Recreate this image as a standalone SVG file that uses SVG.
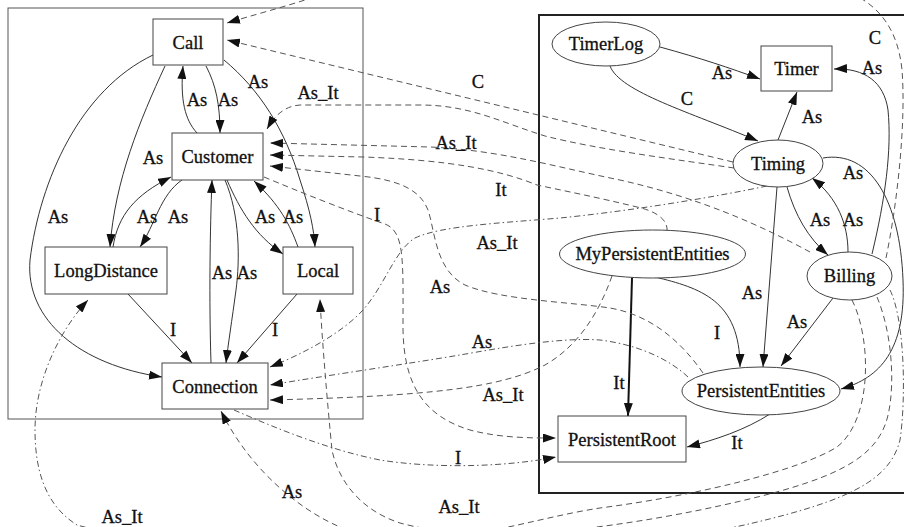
<svg xmlns="http://www.w3.org/2000/svg" width="904" height="527" viewBox="0 0 904 527">
<defs>
<style>
text{font-family:"Liberation Serif",serif;font-size:18.5px;fill:#111;text-anchor:middle;stroke:#111;stroke-width:0.3}
.n rect,.n ellipse{fill:#fff;stroke:#444;stroke-width:1}
.e{fill:none;stroke:#333;stroke-width:1}
.b{fill:none;stroke:#111;stroke-width:2}
.d{fill:none;stroke:#555;stroke-width:1;stroke-dasharray:6,4}
.dd{fill:none;stroke:#555;stroke-width:1;stroke-dasharray:6,3,1.5,3}
</style>
<marker id="a" markerWidth="13" markerHeight="9" refX="13" refY="4.5" orient="auto" markerUnits="userSpaceOnUse"><path d="M0,0 L13,4.5 L0,9 z" fill="#111"/></marker>
</defs>
<rect width="904" height="527" fill="#fff"/>
<g id="clusters">
<rect x="8" y="8" width="355" height="411" fill="none" stroke="#555" stroke-width="1"/>
<rect x="539" y="15" width="390" height="478" fill="none" stroke="#222" stroke-width="2"/>
</g>
<g id="connectors">
<path class="e" marker-end="url(#a)" d="M165,66 C140,120 115,180 110,247"/>
<path class="e" marker-end="url(#a)" d="M153,55 C80,90 40,180 30,260 C25,320 80,365 162,377"/>
<path class="e" marker-end="url(#a)" d="M197,133 C185,120 180,100 183,66"/>
<path class="e" marker-end="url(#a)" d="M206,66 C216,85 220,105 220,133"/>
<path class="e" marker-end="url(#a)" d="M224,60 C260,90 285,130 300,180 C310,210 314,230 315,247"/>
<path class="e" marker-end="url(#a)" d="M113,247 C118,215 135,195 171,177"/>
<path class="e" marker-end="url(#a)" d="M182,180 C160,195 155,225 140,247"/>
<path class="e" marker-end="url(#a)" d="M211,363 C209,300 210,230 212,180"/>
<path class="e" marker-end="url(#a)" d="M225,180 C240,215 240,260 236,290 C232,320 228,345 226,363"/>
<path class="e" marker-end="url(#a)" d="M227,180 C240,210 255,235 283,254"/>
<path class="e" marker-end="url(#a)" d="M298,247 C290,225 280,205 254,181"/>
<path class="e" marker-end="url(#a)" d="M128,294 L192,363"/>
<path class="e" marker-end="url(#a)" d="M297,294 L237,363"/>
<path class="e" marker-end="url(#a)" d="M660,47 C700,58 730,68 760,79"/>
<path class="e" marker-end="url(#a)" d="M610,66 C620,92 690,112 758,141"/>
<path class="e" marker-end="url(#a)" d="M778,140 L797,92"/>
<path class="e" marker-end="url(#a)" d="M787,187 C795,215 808,238 828,255"/>
<path class="e" marker-end="url(#a)" d="M848,252 C848,225 838,198 812,178"/>
<path class="e" marker-end="url(#a)" d="M872,254 C885,200 892,150 888,110 C884,82 865,68 834,69"/>
<path class="e" marker-end="url(#a)" d="M823,158 C870,150 900,200 903,280 C906,350 880,378 841,389"/>
<path class="e" marker-end="url(#a)" d="M777,187 L763,367"/>
<path class="e" marker-end="url(#a)" d="M833,298 L781,366"/>
<path class="e" marker-end="url(#a)" d="M655,277 C700,288 740,300 740,367"/>
<path class="b" marker-end="url(#a)" d="M632,278 L628,416"/>
<path class="e" marker-end="url(#a)" d="M770,414 C745,430 715,440 687,447"/>
<path class="d" marker-end="url(#a)" d="M886,258 C898,200 906,120 902,70 C898,30 880,8 855,-5 C700,-60 420,-45 305,0 C280,8 250,16 227,23"/>
<path class="d" marker-end="url(#a)" d="M733,162 L227,40"/>
<path class="d" marker-end="url(#a)" d="M734,168 C680,160 600,150 545,136 C500,122 470,105 420,105 L300,105 C285,106 275,115 267,129"/>
<path class="d" marker-end="url(#a)" d="M810,252 C760,225 700,198 620,180 C560,168 500,150 430,147 L270,143"/>
<path class="d" marker-end="url(#a)" d="M667,231 C668,222 660,212 637,207 C600,198 570,192 537,185 C500,170 450,160 363,157 L270,155"/>
<path class="d" marker-end="url(#a)" d="M703,373 C680,340 650,315 610,308 C570,302 500,300 465,285 C435,270 435,230 428,210 C420,190 400,180 360,176 L270,166"/>
<path class="d" marker-end="url(#a)" d="M264,177 C300,192 350,212 385,224 C405,232 403,260 403,330 C404,380 420,415 470,430 C500,438 530,438 556,438"/>
<path class="dd" marker-end="url(#a)" d="M767,186 C700,200 620,212 560,218 C500,223 440,226 415,238 C395,250 385,285 363,310 C340,335 300,355 270,367"/>
<path class="dd" marker-end="url(#a)" d="M688,377 C670,360 640,345 600,340 C560,337 500,348 460,355 C400,365 330,375 270,385"/>
<path class="d" marker-end="url(#a)" d="M612,276 C600,310 580,345 545,365 C500,388 430,396 270,400"/>
<path class="dd" marker-end="url(#a)" d="M234,410 C280,430 330,450 380,460 C430,468 500,468 556,457"/>
<path class="d" marker-end="url(#a)" d="M852,300 C872,340 872,420 837,447 C800,470 700,495 600,508 C520,520 420,560 340,527 C300,510 250,470 221,411"/>
<path class="d" marker-end="url(#a)" d="M877,297 C895,340 895,400 885,425 C870,465 820,485 700,510 C600,530 480,545 400,523 C360,510 338,480 332,450 C328,410 322,340 320,299"/>
<path class="dd" marker-end="url(#a)" d="M890,290 C905,320 906,400 900,440 C890,480 850,500 753,523 C600,560 200,560 77,525 C45,505 35,470 35,430 C35,380 60,330 88,300"/>
</g>
<g id="labels">
<text x="153" y="164">As</text>
<text x="58" y="223">As</text>
<text x="197" y="106">As</text>
<text x="228" y="106">As</text>
<text x="258" y="88">As</text>
<text x="318" y="99">As_It</text>
<text x="147" y="223">As</text>
<text x="178" y="223">As</text>
<text x="265" y="223">As</text>
<text x="293" y="223">As</text>
<text x="222" y="279">As</text>
<text x="247" y="279">As</text>
<text x="173" y="336">I</text>
<text x="275" y="336">I</text>
<text x="478" y="88">C</text>
<text x="456" y="149">As_It</text>
<text x="501" y="196">It</text>
<text x="377" y="221">I</text>
<text x="497" y="249">As_It</text>
<text x="440" y="293">As</text>
<text x="482" y="348">As</text>
<text x="503" y="401">As_It</text>
<text x="458" y="464">I</text>
<text x="292" y="498">As</text>
<text x="459" y="513">As_It</text>
<text x="122" y="523">As_It</text>
<text x="875" y="44">C</text>
<text x="872" y="74">As</text>
<text x="722" y="79">As</text>
<text x="687" y="105">C</text>
<text x="812" y="123">As</text>
<text x="853" y="179">As</text>
<text x="820" y="226">As</text>
<text x="853" y="226">As</text>
<text x="752" y="299">As</text>
<text x="797" y="328">As</text>
<text x="717" y="339">I</text>
<text x="619" y="389">It</text>
<text x="737" y="449">It</text>
</g>
<g id="Call" class="n"><rect x="153" y="19" width="70" height="46"/><text x="188" y="49">Call</text></g>
<g id="Customer" class="n"><rect x="172" y="133" width="91" height="47"/><text x="217.5" y="163">Customer</text></g>
<g id="LongDistance" class="n"><rect x="45" y="247" width="122" height="47"/><text x="106" y="277">LongDistance</text></g>
<g id="Local" class="n"><rect x="283" y="247" width="70" height="47"/><text x="318" y="277">Local</text></g>
<g id="Connection" class="n"><rect x="162" y="363" width="106" height="46"/><text x="215" y="393">Connection</text></g>
<g id="TimerLog" class="n"><ellipse cx="606" cy="44" rx="54" ry="22"/><text x="606" y="50">TimerLog</text></g>
<g id="Timer" class="n"><rect x="761" y="46" width="71" height="45"/><text x="796.5" y="75">Timer</text></g>
<g id="Timing" class="n"><ellipse cx="778" cy="163.5" rx="45" ry="23.5"/><text x="778" y="170">Timing</text></g>
<g id="MyPersistentEntities" class="n"><ellipse cx="652.5" cy="254" rx="93" ry="24"/><text x="652.5" y="260">MyPersistentEntities</text></g>
<g id="Billing" class="n"><ellipse cx="849.5" cy="276" rx="42.5" ry="24"/><text x="849.5" y="282">Billing</text></g>
<g id="PersistentEntities" class="n"><ellipse cx="761" cy="391" rx="79" ry="24"/><text x="761" y="397">PersistentEntities</text></g>
<g id="PersistentRoot" class="n"><rect x="558" y="416" width="128" height="46"/><text x="622" y="446">PersistentRoot</text></g>
</svg>
